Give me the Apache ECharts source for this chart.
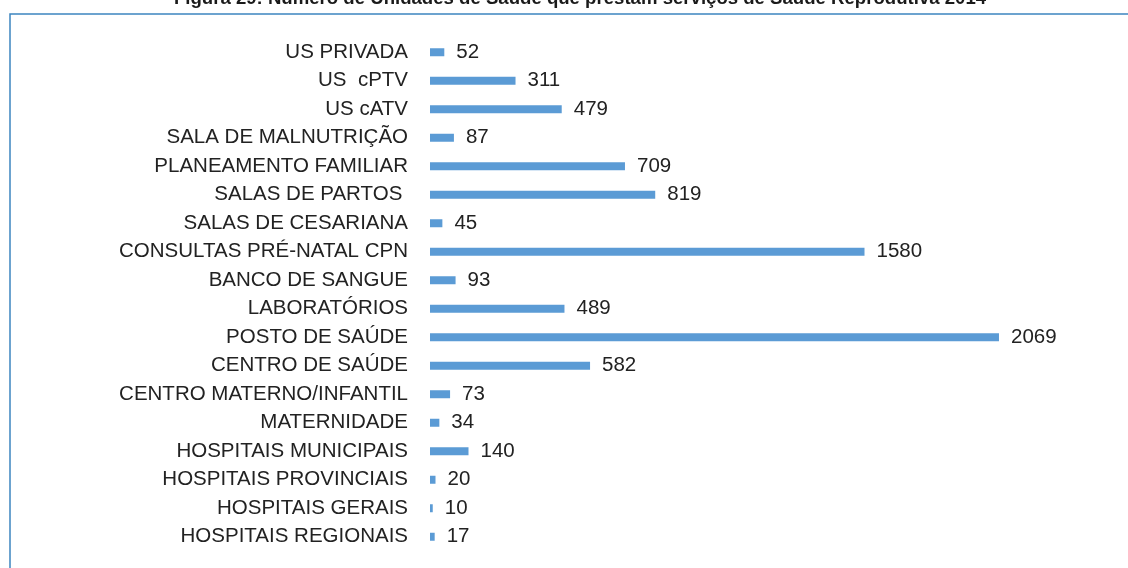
<!DOCTYPE html>
<html lang="pt">
<head>
<meta charset="UTF-8">
<title>Unidades de Saúde</title>
<script src="https://cdn.jsdelivr.net/npm/echarts@6/dist/echarts.min.js"></script>
<style>
  html, body { margin: 0; padding: 0; background: #fff; }
  #main { width: 1128px; height: 568px; }
</style>
</head>
<body>
<div id="main"></div>
<script>
// categorias de cima para baixo
var categorias = ['US PRIVADA', 'US  cPTV', 'US cATV', 'SALA DE MALNUTRIÇÃO', 'PLANEAMENTO FAMILIAR',
  'SALAS DE PARTOS ', 'SALAS DE CESARIANA', 'CONSULTAS PRÉ-NATAL CPN', 'BANCO DE SANGUE',
  'LABORATÓRIOS', 'POSTO DE SAÚDE', 'CENTRO DE SAÚDE', 'CENTRO MATERNO/INFANTIL', 'MATERNIDADE',
  'HOSPITAIS MUNICIPAIS', 'HOSPITAIS PROVINCIAIS', 'HOSPITAIS GERAIS', 'HOSPITAIS REGIONAIS'];
var valores = [52, 311, 479, 87, 709, 819, 45, 1580, 93, 489, 2069, 582, 73, 34, 140, 20, 10, 17];
var titulo = 'Figura 29: Número de Unidades de Saúde que prestam serviços de Saúde Reprodutiva 2014';

var fonte = 'Liberation Sans, Arial, sans-serif';
var chart = echarts.init(document.getElementById('main'));
chart.setOption({
  animation: false,
  graphic: [
    {
      type: 'text', x: 580, y: -11,
      style: { text: titulo, font: 'bold 18.6px "Liberation Sans", Arial, sans-serif', fill: '#1a1a1a', align: 'center' }
    },
    {
      type: 'rect', shape: { x: 10, y: 14, width: 1130, height: 570 },
      style: { fill: 'none', stroke: '#3d85c0', lineWidth: 1.5 }
    }
  ],
  grid: { left: 430, right: 93, top: 38, bottom: 17 },
  xAxis: { type: 'value', min: 0, max: 2200, show: false },
  yAxis: {
    type: 'category', data: categorias, inverse: true,
    axisLine: { show: false }, axisTick: { show: false },
    axisLabel: { margin: 22, fontSize: 20.5, color: '#222', fontFamily: fonte }
  },
  series: [{
    type: 'bar', data: valores, barWidth: 8,
    itemStyle: { color: '#5b9bd5' },
    label: { show: true, position: 'right', distance: 12, fontSize: 20.5, color: '#222', fontFamily: fonte }
  }]
});
</script>
</body>
</html>
